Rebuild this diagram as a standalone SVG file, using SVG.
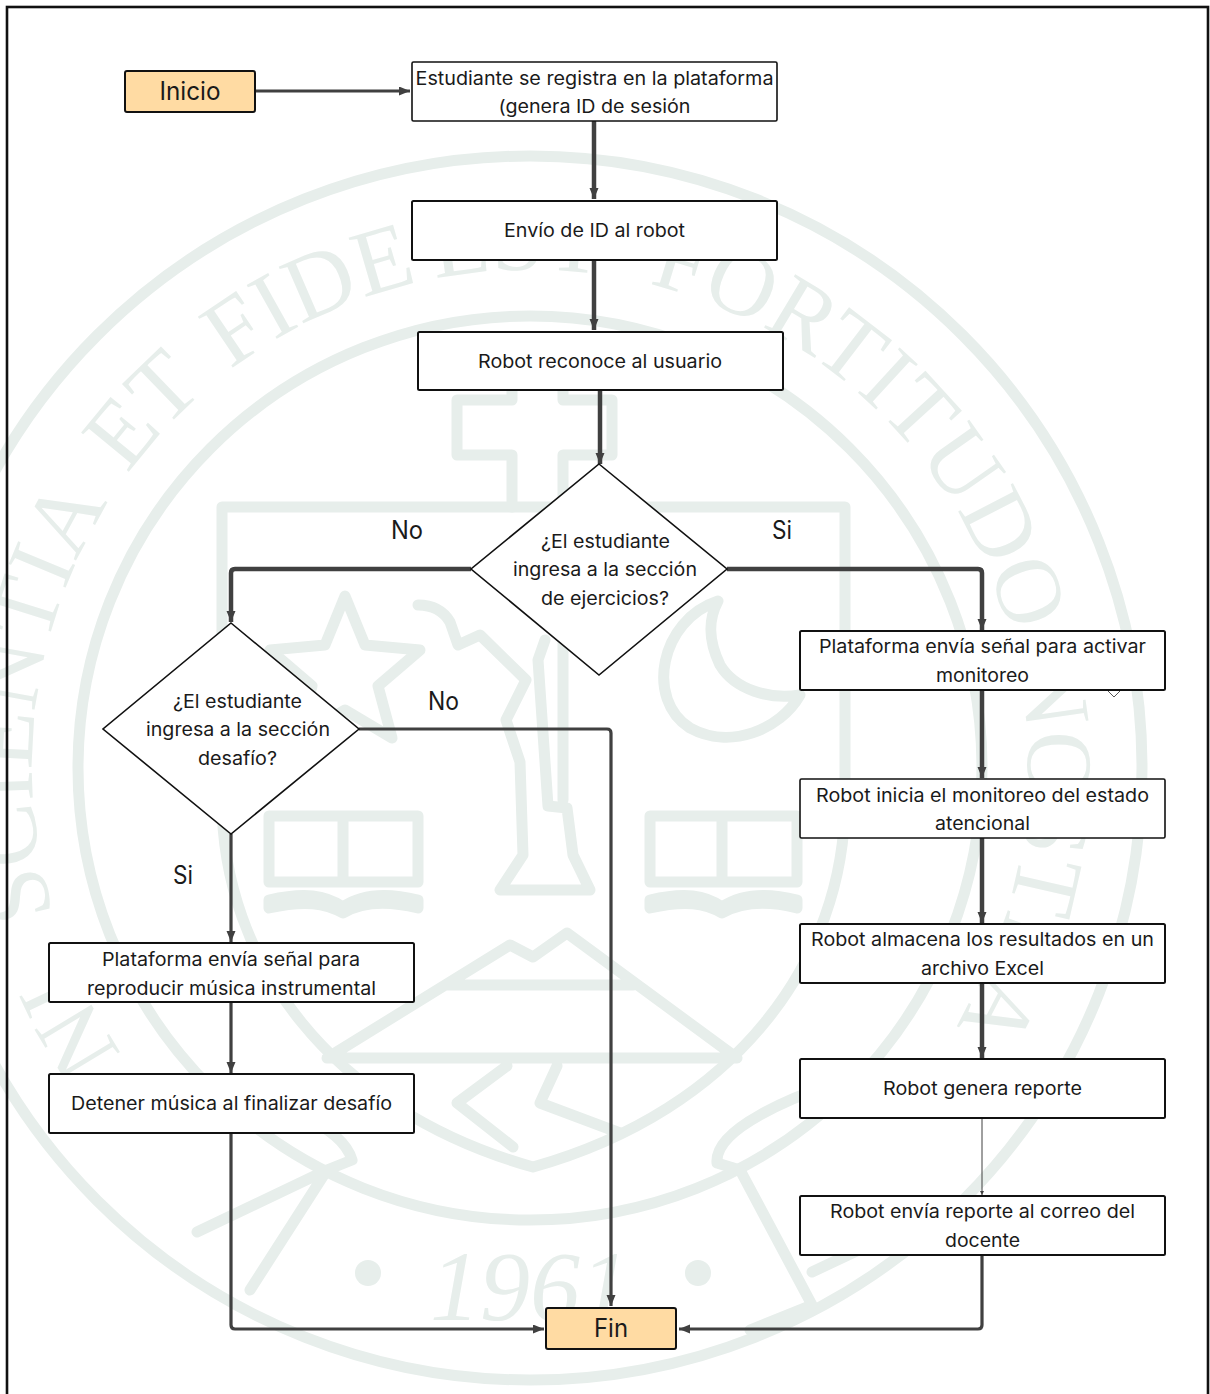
<svg xmlns="http://www.w3.org/2000/svg" width="1210" height="1394" viewBox="0 0 1210 1394">
<defs>
<marker id="a" markerUnits="userSpaceOnUse" markerWidth="12" markerHeight="10" refX="11" refY="4.5" orient="auto"><path d="M0 0L11 4.5L0 9Z" fill="#404040"/></marker>
<marker id="s" markerUnits="userSpaceOnUse" markerWidth="6" markerHeight="6" refX="4" refY="2" orient="auto"><path d="M0 0L4 2L0 4Z" fill="#404040"/></marker>
<path id="ring" d="M178 1120A498 498 0 1 1 882 1120"/>
</defs>
<style>
.wm{fill:none;stroke:#e7eeeb;stroke-width:11;stroke-linejoin:round;stroke-linecap:round}
.wt{fill:#e7eeeb;font-family:"Liberation Serif",serif;font-size:94px}
.n{fill:#fff;stroke:#111;stroke-width:1.6}
.n2{fill:#fff;stroke:#111;stroke-width:2}
.o{fill:#ffdba3;stroke:#111;stroke-width:2}
.t{font-family:Inter,"Liberation Sans",sans-serif;font-size:18.5px;fill:#1a1a1a;text-anchor:middle}
.b{font-family:Inter,"Liberation Sans",sans-serif;font-size:25px;fill:#1a1a1a;text-anchor:middle}
.c{fill:none;stroke:#404040;stroke-width:4.5;stroke-linejoin:round}
.c3{fill:none;stroke:#404040;stroke-width:3.2;stroke-linejoin:round}
</style>
<rect width="1210" height="1394" fill="#fff"/>
<g id="watermark">
<circle cx="530" cy="768" r="612" fill="none" stroke="#e7eeeb" stroke-width="11"/>
<circle cx="530" cy="768" r="452" fill="none" stroke="#e7eeeb" stroke-width="11"/>
<text class="wt"><textPath href="#ring" startOffset="87">NI</textPath></text>
<text class="wt"><textPath href="#ring" startOffset="243">SCIENTIA</textPath></text>
<text class="wt"><textPath href="#ring" startOffset="705">ET</textPath></text>
<text class="wt"><textPath href="#ring" startOffset="852">FIDE</textPath></text>
<text class="wt"><textPath href="#ring" startOffset="1078">EST</textPath></text>
<text class="wt"><textPath href="#ring" startOffset="1293">FORTITUDO</textPath></text>
<text class="wt"><textPath href="#ring" startOffset="1851">NOSTRA</textPath></text>
<path class="wm" d="M222 507H845V800C845 960 736 1110 533 1167C330 1110 222 960 222 800Z"/>
<path class="wm" d="M512 507V455H457V400H512V340H563V400H612V455H563V507"/>
<path class="wm" d="M345 596L365 645L420 650L378 686L392 738L345 710L298 738L312 686L270 650L325 645Z"/>
<path class="wm" d="M718 601C660 620 645 700 690 728C730 750 780 730 800 695C770 700 735 690 720 665C708 640 708 620 718 601Z"/>
<path class="wm" d="M269 816H343V882H269ZM343 816H418V882H343ZM269 908V900C305 892 325 895 343 907C360 895 385 892 418 900V908C385 900 360 903 343 913C325 903 305 900 269 908Z"/>
<path class="wm" d="M650 816H722V882H650ZM722 816H797V882H722ZM650 908V900C685 892 705 895 722 907C740 895 765 892 797 900V908C765 900 740 903 722 913C705 903 685 900 650 908Z"/>
<path class="wm" d="M418 605Q440 605 450 622L458 645L480 635L526 680L506 720L520 762L523 855L500 890H590L573 855L567 808L548 806L538 660L545 640M563 640V800"/>
<path class="wm" d="M327 1058L510 945L533 957L567 933L737 1058ZM447 985H633M507 1066L457 1103L513 1147M557 1066L540 1103L620 1133"/>
<path class="wm" d="M240 1085L300 1115Q345 1135 352 1160L327 1170L197 1232M327 1170L250 1290M717 1163L740 1170L812 1305L750 1330M717 1163Q715 1140 760 1115Q790 1098 830 1085M812 1272L880 1240"/>
<text class="wt" x="430" y="1320" style="font-size:100px;font-style:italic" textLength="200">1961</text>
<circle cx="368" cy="1273" r="13" fill="#e7eeeb"/><circle cx="698" cy="1273" r="13" fill="#e7eeeb"/>
</g>
<rect id="frame" x="7" y="7" width="1201" height="1400" fill="none" stroke="#111" stroke-width="2.6"/>
<g id="connectors">
<path class="c3" marker-end="url(#a)" d="M255 91H410"/>
<path class="c" marker-end="url(#a)" d="M594 121V199"/>
<path class="c" marker-end="url(#a)" d="M594 260V330"/>
<path class="c" marker-end="url(#a)" d="M600 390V464"/>
<path class="c" marker-end="url(#a)" d="M471 569H235Q231 569 231 573V622"/>
<path class="c" marker-end="url(#a)" d="M727 569H978Q982 569 982 573V630"/>
<path class="c" marker-end="url(#a)" d="M982 690V778"/>
<path class="c" marker-end="url(#a)" d="M982 838V923"/>
<path class="c" marker-end="url(#a)" d="M982 983V1058"/>
<path fill="none" stroke="#404040" stroke-width="1" marker-end="url(#s)" d="M982 1118V1195"/>
<path class="c3" marker-end="url(#a)" d="M982 1255V1325Q982 1329 978 1329H679"/>
<path class="c3" marker-end="url(#a)" d="M231 834V942"/>
<path class="c3" marker-end="url(#a)" d="M231 1002V1073"/>
<path class="c3" marker-end="url(#a)" d="M231 1133V1325Q231 1329 235 1329H544"/>
<path class="c3" marker-end="url(#a)" d="M359 729H607Q611 729 611 733V1306"/>
</g>
<g id="stray"><path d="M1108 691L1114 697L1120 691" fill="#fff" stroke="#555" stroke-width="1"/></g>
<g id="inicio"><rect class="o" x="125" y="71" width="130" height="41" rx="2"/><text class="b" x="190" y="100" textLength="61" lengthAdjust="spacingAndGlyphs">Inicio</text></g>
<g id="n1"><rect class="n" x="412" y="62" width="365" height="59" rx="1.5"/><text class="t" x="594.5" y="85" textLength="358" lengthAdjust="spacingAndGlyphs">Estudiante se registra en la plataforma</text><text class="t" x="594.5" y="113" textLength="192" lengthAdjust="spacingAndGlyphs">(genera ID de sesión</text></g>
<g id="n2"><rect class="n2" x="412" y="201" width="365" height="59" rx="1.5"/><text class="t" x="594.5" y="237" textLength="181" lengthAdjust="spacingAndGlyphs">Envío de ID al robot</text></g>
<g id="n3"><rect class="n2" x="418" y="332" width="365" height="58" rx="1.5"/><text class="t" x="600" y="368" textLength="244" lengthAdjust="spacingAndGlyphs">Robot reconoce al usuario</text></g>
<g id="d1"><polygon class="n" points="599,464 727,569 599,675 471,569"/><text class="t" x="605.5" y="548" textLength="129" lengthAdjust="spacingAndGlyphs">¿El estudiante</text><text class="t" x="605" y="576" textLength="184" lengthAdjust="spacingAndGlyphs">ingresa a la sección</text><text class="t" x="605" y="605" textLength="128" lengthAdjust="spacingAndGlyphs">de ejercicios?</text></g>
<g id="d2"><polygon class="n" points="231,623 359,729 231,834 103,729"/><text class="t" x="237.5" y="708" textLength="129" lengthAdjust="spacingAndGlyphs">¿El estudiante</text><text class="t" x="238" y="736" textLength="184" lengthAdjust="spacingAndGlyphs">ingresa a la sección</text><text class="t" x="237.5" y="765" textLength="79" lengthAdjust="spacingAndGlyphs">desafío?</text></g>
<g id="n4"><rect class="n2" x="800" y="631" width="365" height="59" rx="1.5"/><text class="t" x="982.5" y="653" textLength="327" lengthAdjust="spacingAndGlyphs">Plataforma envía señal para activar</text><text class="t" x="982.5" y="682" textLength="93" lengthAdjust="spacingAndGlyphs">monitoreo</text></g>
<g id="n5"><rect class="n" x="800" y="779" width="365" height="59" rx="1.5"/><text class="t" x="982.5" y="802" textLength="333" lengthAdjust="spacingAndGlyphs">Robot inicia el monitoreo del estado</text><text class="t" x="982.5" y="830" textLength="95" lengthAdjust="spacingAndGlyphs">atencional</text></g>
<g id="n6"><rect class="n2" x="800" y="924" width="365" height="59" rx="1.5"/><text class="t" x="982.5" y="946" textLength="343" lengthAdjust="spacingAndGlyphs">Robot almacena los resultados en un</text><text class="t" x="982.5" y="975" textLength="123" lengthAdjust="spacingAndGlyphs">archivo Excel</text></g>
<g id="n7"><rect class="n2" x="800" y="1059" width="365" height="59" rx="1.5"/><text class="t" x="982.5" y="1095" textLength="199" lengthAdjust="spacingAndGlyphs">Robot genera reporte</text></g>
<g id="n8"><rect class="n2" x="800" y="1196" width="365" height="59" rx="1.5"/><text class="t" x="982.5" y="1218" textLength="305" lengthAdjust="spacingAndGlyphs">Robot envía reporte al correo del</text><text class="t" x="982.5" y="1247" textLength="75" lengthAdjust="spacingAndGlyphs">docente</text></g>
<g id="n9"><rect class="n2" x="49" y="943" width="365" height="59" rx="1.5"/><text class="t" x="231" y="966" textLength="258" lengthAdjust="spacingAndGlyphs">Plataforma envía señal para</text><text class="t" x="231.5" y="995" textLength="289" lengthAdjust="spacingAndGlyphs">reproducir música instrumental</text></g>
<g id="n10"><rect class="n2" x="49" y="1074" width="365" height="59" rx="1.5"/><text class="t" x="231.5" y="1110" textLength="321" lengthAdjust="spacingAndGlyphs">Detener música al finalizar desafío</text></g>
<g id="fin"><rect class="o" x="546" y="1308" width="130" height="41" rx="2"/><text class="b" x="611" y="1337" textLength="34" lengthAdjust="spacingAndGlyphs">Fin</text></g>
<g id="labels">
<text class="b" x="407" y="539" textLength="32" lengthAdjust="spacingAndGlyphs">No</text>
<text class="b" x="782" y="539" textLength="20" lengthAdjust="spacingAndGlyphs">Si</text>
<text class="b" x="443.5" y="710" textLength="31" lengthAdjust="spacingAndGlyphs">No</text>
<text class="b" x="183" y="884" textLength="20" lengthAdjust="spacingAndGlyphs">Si</text>
</g>
</svg>
